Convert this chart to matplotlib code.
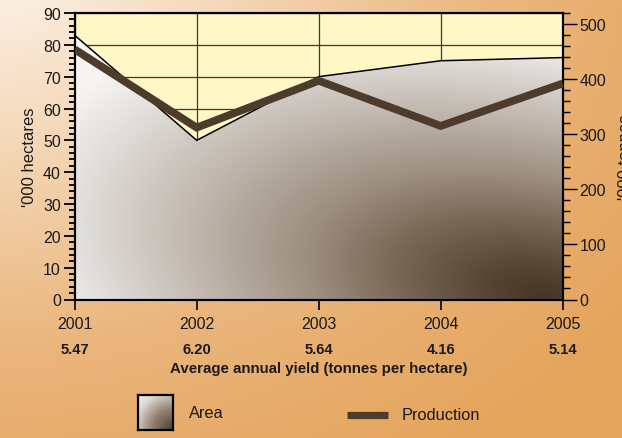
import numpy as np
import matplotlib
matplotlib.use("Agg")
import matplotlib.pyplot as plt
from matplotlib.lines import Line2D
from matplotlib.patches import Polygon
from matplotlib.ticker import MultipleLocator

# ---- data -------------------------------------------------------------
years = [2001, 2002, 2003, 2004, 2005]
area_kha = [83, 50, 70, 75, 76]            # '000 hectares
production_kt = [454, 312, 397, 315, 392]  # '000 tonnes
avg_yield = ["5.47", "6.20", "5.64", "4.16", "5.14"]  # tonnes per hectare

W, H, DPI = 622, 439, 100
plt.rcParams["font.family"] = ["Liberation Sans", "DejaVu Sans"]

TEXT = "#1a1a1a"
BROWN = "#4D3C2B"


def ramp(t, stops):
    pos = [s[0] for s in stops]
    out = np.zeros(t.shape + (3,))
    for i in range(3):
        out[..., i] = np.interp(t, pos, [s[1][i] for s in stops])
    return out / 255.0


fig = plt.figure(figsize=(W / DPI, H / DPI), dpi=DPI)

# warm page background, lightest in the upper-left corner
yy, xx = np.mgrid[0:H, 0:W].astype(float)
tb = np.sqrt(((xx + 20) / 750.0) ** 2 + ((yy + 40) / 560.0) ** 2)
bg = ramp(tb, [(0.0, (253, 245, 238)), (0.35, (244, 214, 180)),
               (0.7, (234, 181, 124)), (1.1, (228, 163, 90))])
fig.figimage(bg, 0, 0, origin="upper", zorder=-10)

# plot box in pixel terms
px_l, px_r, px_t, px_b = 74.7, 562.7, 14.0, 300.5
ax = fig.add_axes([px_l / W, 1 - px_b / H, (px_r - px_l) / W, (px_b - px_t) / H])
ax.set_facecolor("#FFF7C6")
ax.set_xlim(years[0], years[-1])
ax.set_ylim(0, 90)
ax.set_xticks(years)
ax.yaxis.set_major_locator(MultipleLocator(10))
ax.yaxis.set_minor_locator(MultipleLocator(2))
ax.grid(True, which="major", color="#3a3a30", lw=0.9)
ax.set_axisbelow(True)

# shaded area: tilted elliptical gradient, dark in the lower-right corner
nx, ny = int(px_r - px_l), int(px_b - px_t)
gx, gy = np.meshgrid(np.linspace(px_l, px_r, nx), np.linspace(px_t, px_b, ny))
dx, dy = gx - 545.0, gy - 296.0
ang = np.deg2rad(12.0)
du, dv = -np.cos(ang), -np.sin(ang)
u = dx * du + dy * dv
v = dx * (-dv) + dy * du
ta = np.sqrt((u / 540.0) ** 2 + (v / 255.0) ** 2)
area_img = ramp(ta, [(0.0, (70, 54, 38)), (0.1, (84, 68, 52)),
                     (0.28, (120, 103, 86)), (0.45, (157, 142, 127)),
                     (0.71, (199, 191, 183)), (0.9, (229, 226, 223)),
                     (1.0, (245, 244, 243)), (1.3, (252, 252, 252))])
im = ax.imshow(area_img, extent=(years[0], years[-1], 0, 90), aspect="auto",
               origin="upper", interpolation="bilinear", zorder=1)
verts = [(years[0], 0)] + list(zip(years, area_kha)) + [(years[-1], 0)]
clip = Polygon(verts, closed=True, transform=ax.transData,
               facecolor="none", edgecolor="none")
ax.add_patch(clip)
im.set_clip_path(clip)
ax.plot(years, area_kha, color="black", lw=1.1, zorder=2)

# production on the right-hand axis
ax2 = ax.twinx()
ax2.set_ylim(0, 520)
ax2.yaxis.set_major_locator(MultipleLocator(100))
ax2.yaxis.set_minor_locator(MultipleLocator(20))
ax2.plot(years, production_kt, color=BROWN, lw=5.6,
         solid_joinstyle="miter", solid_capstyle="butt", zorder=3)

for a in (ax, ax2):
    for s in a.spines.values():
        s.set_linewidth(1.5)
        s.set_color("black")

ax.tick_params(axis="y", which="major", direction="out", length=8, width=1.3,
               pad=2, labelsize=11.5, labelcolor=TEXT)
ax.tick_params(axis="y", which="minor", direction="out", length=4, width=1.3)
ax.tick_params(axis="x", which="major", direction="out", length=7, width=1.2,
               pad=5, labelsize=11.5, labelcolor=TEXT)
ax2.tick_params(axis="y", which="major", direction="out", length=10, width=1.0,
                pad=2, labelsize=11.5, labelcolor=TEXT)
ax2.tick_params(axis="y", which="minor", direction="out", length=5, width=1.0)

# yield values under each year
ytxt = (px_b - 350) / (px_b - px_t)
for x, s in zip(years, avg_yield):
    ax.text(x, ytxt, s, transform=ax.get_xaxis_transform(), ha="center",
            va="center", fontsize=10.6, fontweight="bold", color=TEXT)
fig.text(319 / W, 1 - 369 / H, "Average annual yield (tonnes per hectare)",
         ha="center", va="center", fontsize=10.8, fontweight="bold", color=TEXT)

fig.text(29 / W, 1 - 157 / H, "'000 hectares", rotation=90, ha="center",
         va="center", fontsize=12, color=TEXT)
fig.text(626 / W, 1 - 157 / H, "'000 tonnes", rotation=90, ha="center",
         va="center", fontsize=12, color=TEXT)

# legend
lax = fig.add_axes([138 / W, 1 - 431 / H, 35 / W, 35 / H])
ly, lx = np.mgrid[0:35, 0:35].astype(float)
tl = np.sqrt((lx - 34) ** 2 + (ly - 34) ** 2) / 45.0
lax.imshow(ramp(tl, [(0.0, (80, 62, 44)), (0.45, (145, 128, 112)),
                     (0.85, (222, 218, 214)), (1.2, (245, 244, 243))]),
           aspect="auto", interpolation="bilinear")
lax.set_xticks([])
lax.set_yticks([])
for s in lax.spines.values():
    s.set_linewidth(1.6)
    s.set_color("black")
fig.text(189 / W, 1 - 414 / H, "Area", ha="left", va="center",
         fontsize=11.8, color=TEXT)
fig.add_artist(Line2D([347 / W, 388 / W], [1 - 416 / H, 1 - 416 / H],
                      transform=fig.transFigure, color=BROWN, lw=5.2,
                      solid_capstyle="butt"))
fig.text(402 / W, 1 - 416 / H, "Production", ha="left", va="center",
         fontsize=11.8, color=TEXT)

fig.savefig("out.png", dpi=DPI)
